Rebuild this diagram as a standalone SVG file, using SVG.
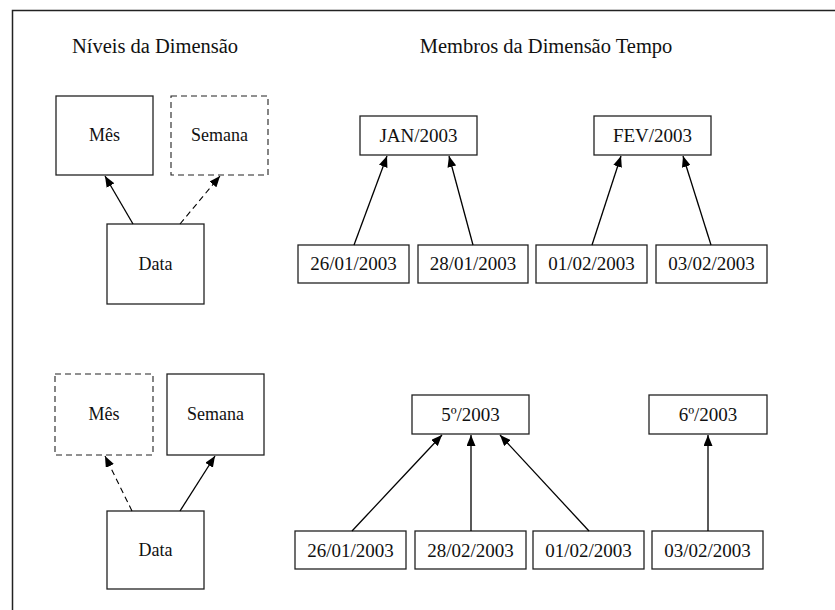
<svg xmlns="http://www.w3.org/2000/svg" width="835" height="610" viewBox="0 0 835 610">
  <defs>
    <marker id="arrow" viewBox="0 0 11 9" refX="11" refY="4.5" markerWidth="11" markerHeight="9" markerUnits="userSpaceOnUse" orient="auto">
      <path d="M0,0 L11,4.5 L0,9 z" fill="#000"/>
    </marker>
    <style>
      text { font-family: "Liberation Serif", "Times New Roman", serif; fill: #111; text-anchor: middle; }
      .title { font-size: 20.5px; }
      .lbl { font-size: 19px; }
      .small { font-size: 18px; }
      .box { fill: #fff; stroke: #222; stroke-width: 1.3; }
      .dash { fill: #fff; stroke: #222; stroke-width: 1.1; stroke-dasharray: 6 4; }
      .edge { stroke: #000; stroke-width: 1.3; fill: none; marker-end: url(#arrow); }
      .edge.dashed { stroke-dasharray: 6 4; stroke-width: 1.1; }
    </style>
  </defs>
  <rect width="835" height="610" fill="#fff"/>
  <!-- open frame: left and top edges only -->
  <path d="M12.5,610 V10.5 H835" fill="none" stroke="#222" stroke-width="1.5"/>

  <text class="title" x="155" y="53">Níveis da Dimensão</text>
  <text class="title" x="546" y="53">Membros da Dimensão Tempo</text>

  <!-- upper level schema -->
  <g id="mes1"><rect class="box" x="56" y="96" width="97" height="79"/><text class="small" x="104.5" y="141">Mês</text></g>
  <g id="semana1"><rect class="dash" x="171" y="96" width="97" height="79"/><text class="small" x="219.5" y="141">Semana</text></g>
  <g id="data1"><rect class="box" x="107" y="224" width="97" height="80"/><text class="small" x="155.5" y="270">Data</text></g>

  <!-- upper members -->
  <g id="jan"><rect class="box" x="360" y="116" width="117" height="39"/><text class="lbl" x="418.5" y="142">JAN/2003</text></g>
  <g id="fev"><rect class="box" x="594" y="116" width="117" height="39"/><text class="lbl" x="652.5" y="142">FEV/2003</text></g>
  <g id="d2601a"><rect class="box" x="298" y="245" width="111" height="38"/><text class="lbl" x="353.5" y="270">26/01/2003</text></g>
  <g id="d2801"><rect class="box" x="418" y="245" width="110" height="38"/><text class="lbl" x="473" y="270">28/01/2003</text></g>
  <g id="d0102a"><rect class="box" x="536" y="245" width="111" height="38"/><text class="lbl" x="591.5" y="270">01/02/2003</text></g>
  <g id="d0302a"><rect class="box" x="656" y="245" width="111" height="38"/><text class="lbl" x="711.5" y="270">03/02/2003</text></g>

  <!-- lower level schema -->
  <g id="mes2"><rect class="dash" x="55" y="374" width="98" height="81"/><text class="small" x="104" y="420">Mês</text></g>
  <g id="semana2"><rect class="box" x="167" y="374" width="97" height="81"/><text class="small" x="215.5" y="420">Semana</text></g>
  <g id="data2"><rect class="box" x="107" y="511" width="97" height="78"/><text class="small" x="155.5" y="556">Data</text></g>

  <!-- lower members -->
  <g id="w5"><rect class="box" x="412" y="395" width="117" height="39"/><text class="lbl" x="470.5" y="421">5º/2003</text></g>
  <g id="w6"><rect class="box" x="649" y="395" width="118" height="39"/><text class="lbl" x="708" y="421">6º/2003</text></g>
  <g id="d2601b"><rect class="box" x="295" y="531" width="111" height="38"/><text class="lbl" x="350.5" y="557">26/01/2003</text></g>
  <g id="d2802"><rect class="box" x="415" y="531" width="111" height="38"/><text class="lbl" x="470.5" y="557">28/02/2003</text></g>
  <g id="d0102b"><rect class="box" x="533" y="531" width="111" height="38"/><text class="lbl" x="588.5" y="557">01/02/2003</text></g>
  <g id="d0302b"><rect class="box" x="652" y="531" width="111" height="38"/><text class="lbl" x="707.5" y="557">03/02/2003</text></g>

  <g id="connectors">
    <line class="edge" x1="133" y1="224" x2="105" y2="176"/>
    <line class="edge dashed" x1="180" y1="224" x2="220" y2="176"/>
    <line class="edge" x1="354" y1="245" x2="387" y2="156"/>
    <line class="edge" x1="473" y1="245" x2="449" y2="156"/>
    <line class="edge" x1="592" y1="245" x2="621" y2="156"/>
    <line class="edge" x1="711" y1="245" x2="683" y2="156"/>
    <line class="edge dashed" x1="132" y1="511" x2="105" y2="456"/>
    <line class="edge" x1="180" y1="511" x2="215" y2="456"/>
    <line class="edge" x1="352" y1="531" x2="442" y2="435"/>
    <line class="edge" x1="471" y1="531" x2="471" y2="435"/>
    <line class="edge" x1="589" y1="531" x2="500" y2="435"/>
    <line class="edge" x1="708" y1="531" x2="708" y2="435"/>
  </g>
</svg>
